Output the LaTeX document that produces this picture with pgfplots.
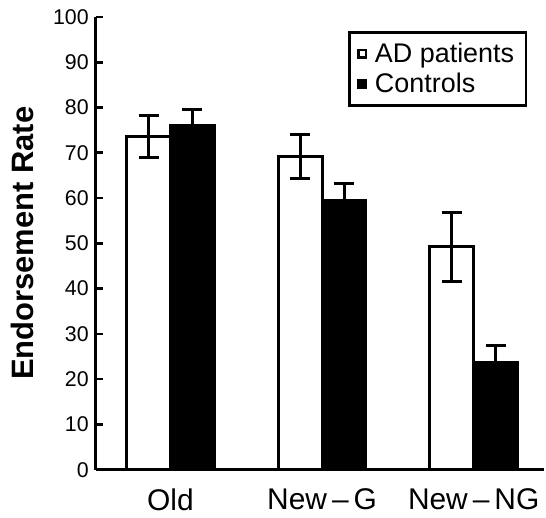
\documentclass[border=0pt]{standalone}
\usepackage{fontspec}
\setmainfont{Liberation Sans}
\usepackage{pgfplots}
\pgfplotsset{compat=1.18}

% endorsement rates (%), error = half bar of the error whisker
\pgfplotstableread{
x  ad    aderr ctl   ctlerr
0  73.6  4.6   76.1  3.4
1  69.2  4.8   59.4  3.8
2  49.2  7.7   23.6  3.9
}\ratedata

\begin{document}
\begin{tikzpicture}
\begin{axis}[
    scale only axis,
    width=225pt, height=227pt,
    clip=false,
    ybar=0pt, bar width=22pt,
    xmin=-0.493, xmax=2.467,
    ymin=0, ymax=100,
    axis x line=bottom, axis y line=left,
    axis line style={-, line width=1.3pt},
    xtick=data,
    xticklabels={Old, New\,–\,G, New\,–\,NG},
    x tick style={draw=none},
    xticklabel style={font=\fontsize{15}{17}\selectfont, anchor=center, yshift=-15pt},
    ytick={0,10,...,100},
    y tick style={line width=1.3pt, black},
    tick align=inside,
    major tick length=3.5pt,
    yticklabel style={font=\fontsize{10.7}{12}\selectfont},
    /pgf/number format/assume math mode=true,
    ylabel={\textbf{Endorsement Rate}},
    ylabel style={font=\fontsize{15.5}{18}\selectfont, at={(axis description cs:-0.164,0.5)}, anchor=center},
    legend style={at={(rel axis cs:0.962,0.968)}, anchor=north east,
        draw=black, line width=1.3pt, font=\fontsize{13.5}{15}\selectfont,
        inner xsep=4pt, inner ysep=3pt, row sep=0pt, column sep=2pt},
    legend image code/.code={\draw[#1, line width=1.2pt] (0.3pt,-1.8pt) rectangle (4pt,1.9pt);},
    legend cell align=left,
]
\addplot[draw=black, fill=white, line width=1.5pt,
    error bars/.cd, y dir=both, y explicit,
    error bar style={line width=1.5pt, black},
    error mark options={rotate=90, mark size=5pt, line width=1.5pt, black}]
    table[x=x, y=ad, y error=aderr] {\ratedata};
\addlegendentry{AD patients}
\addplot[draw=black, fill=black, line width=1.5pt,
    error bars/.cd, y dir=plus, y explicit,
    error bar style={line width=1.5pt, black},
    error mark options={rotate=90, mark size=5pt, line width=1.5pt, black}]
    table[x=x, y=ctl, y error=ctlerr] {\ratedata};
\addlegendentry{Controls}
\path ([shift={(-48pt,-20.5pt)}]rel axis cs:0,0) rectangle ([shift={(0pt,8.5pt)}]rel axis cs:1,1);
\end{axis}
\end{tikzpicture}
\end{document}
